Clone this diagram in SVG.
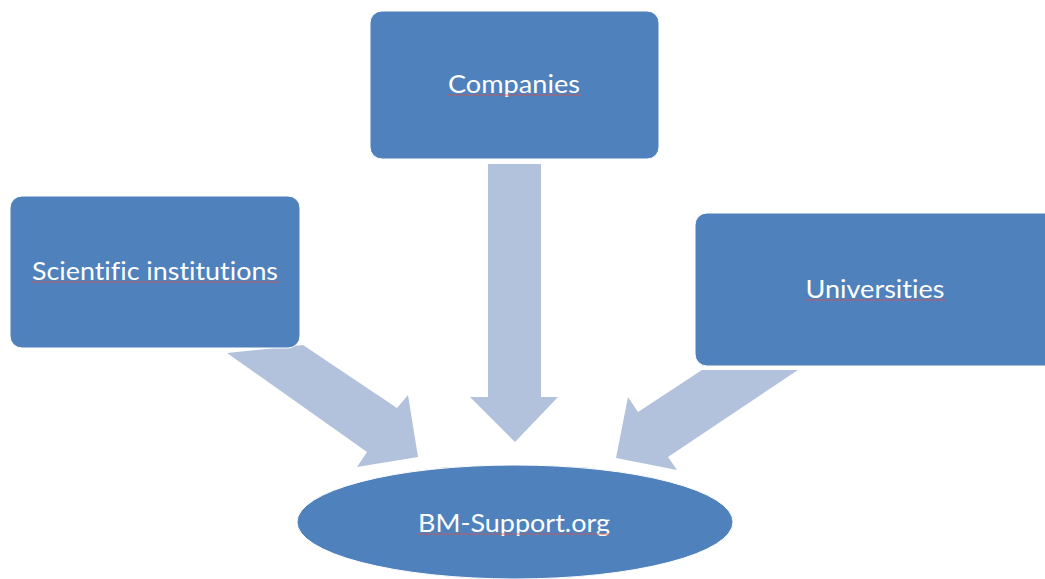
<svg xmlns="http://www.w3.org/2000/svg" width="1045" height="579" viewBox="0 0 1045 579">
<style>
.box{fill:#4F81BD;stroke:#FFFFFF;stroke-width:1}
.arrow{fill:#B3C2DC}
.lbl{fill:#FFFFFF;font-family:"Lato","Open Sans","Liberation Sans",sans-serif;font-size:25px;text-anchor:middle;font-variant-ligatures:none;font-feature-settings:"liga" 0,"dlig" 0}
.spell{stroke:#D9534F;stroke-width:1;fill:none;opacity:0.8}
</style>
<rect width="1045" height="579" fill="#FFFFFF"/>
<g id="connectors">
<path class="arrow" d="M488,164 L541,164 L541,397 L558,397 L515,442 L470,397 L488,397 Z"/>
<path class="arrow" d="M227,353 L303,345 L397,408 L408,395 L418,457 L357,467 L367,452 Z"/>
<path class="arrow" d="M798,370 L702,370 L638,412 L628,397 L616,458 L677,470 L668,457 Z"/>
</g>
<g id="companies">
<rect class="box" x="370" y="11" width="289" height="148" rx="12"/>
<text class="lbl" x="514" y="93" textLength="132" lengthAdjust="spacingAndGlyphs">Companies</text>
<line class="spell" x1="448" y1="95" x2="581" y2="95"/>
</g>
<g id="scientific">
<rect class="box" x="10" y="196" width="290" height="152" rx="12"/>
<text class="lbl" x="155" y="280" textLength="246" lengthAdjust="spacingAndGlyphs">Scientific institutions</text>
<line class="spell" x1="32" y1="282" x2="279" y2="282"/>
</g>
<g id="universities">
<rect class="box" x="695" y="213" width="370" height="153" rx="12"/>
<text class="lbl" x="875" y="298" textLength="139" lengthAdjust="spacingAndGlyphs">Universities</text>
<line class="spell" x1="806" y1="300" x2="945" y2="300"/>
</g>
<g id="bmsupport">
<ellipse class="box" cx="515" cy="522" rx="218" ry="57"/>
<text class="lbl" x="514" y="532" textLength="192" lengthAdjust="spacingAndGlyphs">BM-Support.org</text>
<line class="spell" x1="418" y1="534" x2="610" y2="534"/>
</g>
</svg>
